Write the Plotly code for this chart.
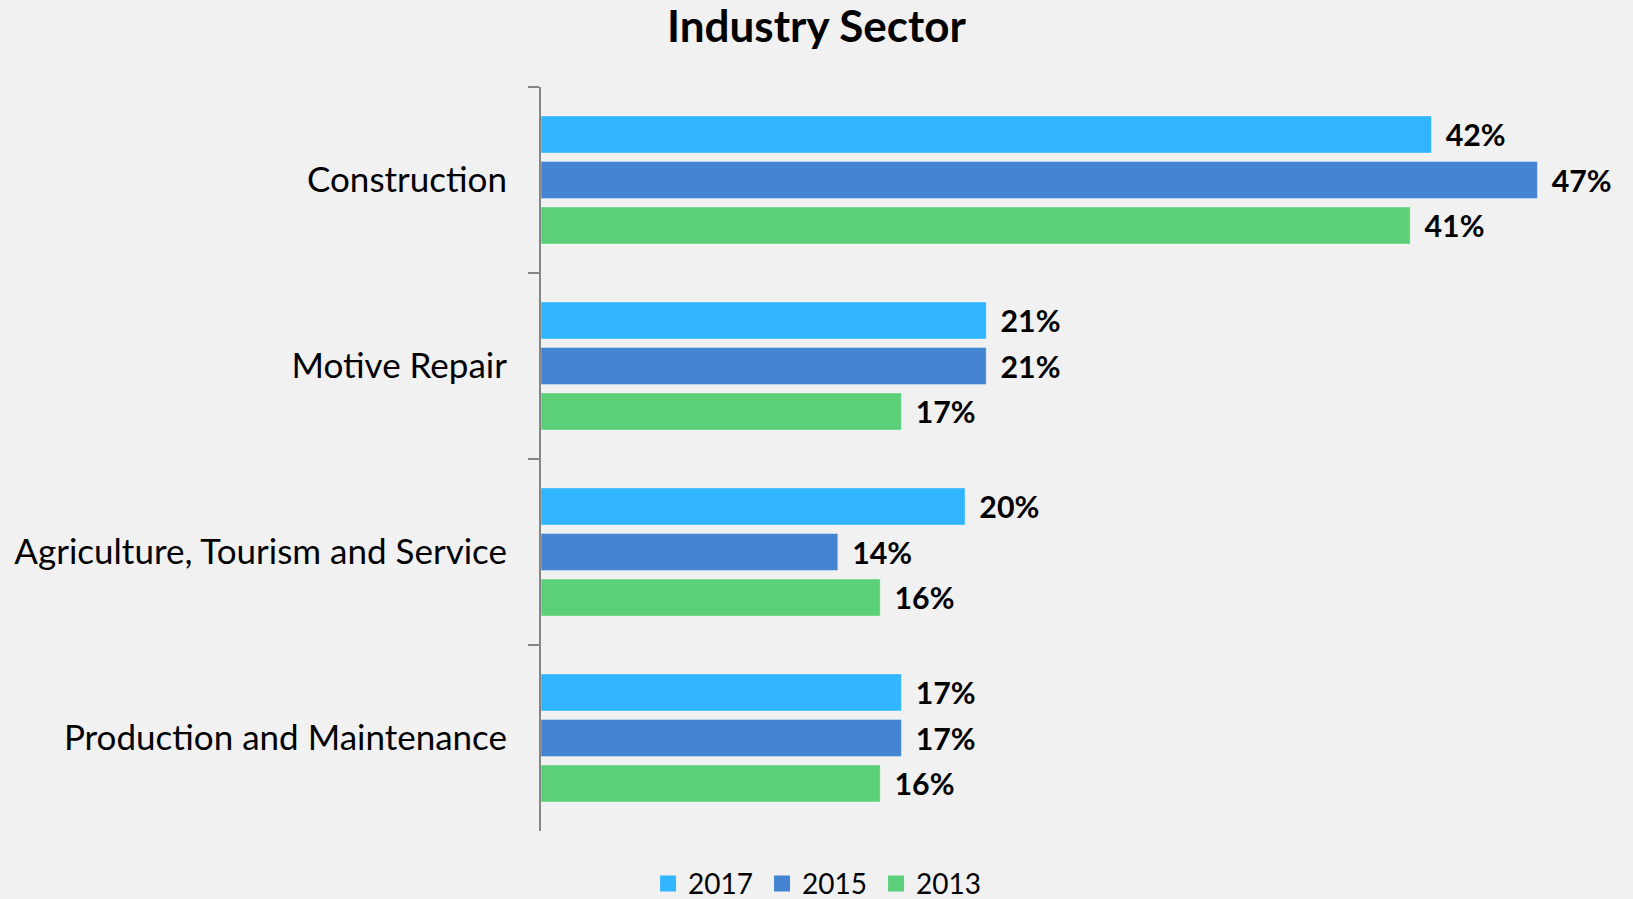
import plotly.graph_objects as go

categories = ["Construction", "Motive Repair", "Agriculture, Tourism and Service", "Production and Maintenance"]
years = ["2017", "2015", "2013"]
values_2017 = [42, 21, 20, 17]
values_2015 = [47, 21, 14, 17]
values_2013 = [41, 17, 16, 16]
colors = ["#31B5FE", "#4584D3", "#5BD079"]

FONT = "Lato"
series = [values_2017, values_2015, values_2013]

fig = go.Figure()
for year, vals, col in zip(years, series, colors):
    fig.add_trace(go.Bar(
        name=year,
        y=categories,
        x=vals,
        orientation="h",
        marker=dict(color=col, line=dict(color="rgba(255,255,255,0.35)", width=1)),
        text=["\u2009\u2009\u2009" + f"{v}%" for v in vals],
        textposition="outside",
        textfont=dict(family=FONT, size=36, color="#000000", weight="bold"),
        cliponaxis=False,
        hoverinfo="skip",
        showlegend=False,
    ))

# legend entries with larger square swatches
for year, col in zip(years, colors):
    fig.add_trace(go.Scatter(
        name=year,
        x=[None],
        y=[None],
        mode="markers",
        marker=dict(symbol="square", size=18, color=col),
        showlegend=True,
        hoverinfo="skip",
    ))

fig.update_layout(
    width=1633,
    height=899,
    paper_bgcolor="#F1F1F1",
    plot_bgcolor="#F1F1F1",
    margin=dict(l=541, r=32, t=87, b=68, autoexpand=False),
    barmode="group",
    bargap=0.266,
    bargroupgap=0.187,
    title=dict(
        text="<b>Industry Sector</b>",
        font=dict(family=FONT, size=44, color="#000000"),
        x=0.5, xanchor="center", xref="container",
        y=0.970, yanchor="middle", yref="container",
    ),
    xaxis=dict(
        range=[0, 50],
        visible=False,
        showgrid=False,
        zeroline=False,
    ),
    yaxis=dict(
        autorange="reversed",
        showline=True,
        linecolor="#868686",
        linewidth=2,
        ticks="outside",
        ticklen=11,
        tickwidth=2,
        tickcolor="#868686",
        tickson="boundaries",
        ticklabelstandoff=25,
        tickfont=dict(family=FONT, size=35, color="#000000"),
        showgrid=False,
    ),
    legend=dict(
        orientation="h",
        x=0.101,
        xanchor="left",
        y=-0.071,
        yanchor="middle",
        entrywidth=69,
        font=dict(family=FONT, size=28, color="#000000"),
        bgcolor="rgba(0,0,0,0)",
        traceorder="normal",
    ),
    showlegend=True,
)

fig.write_html("out.html")
